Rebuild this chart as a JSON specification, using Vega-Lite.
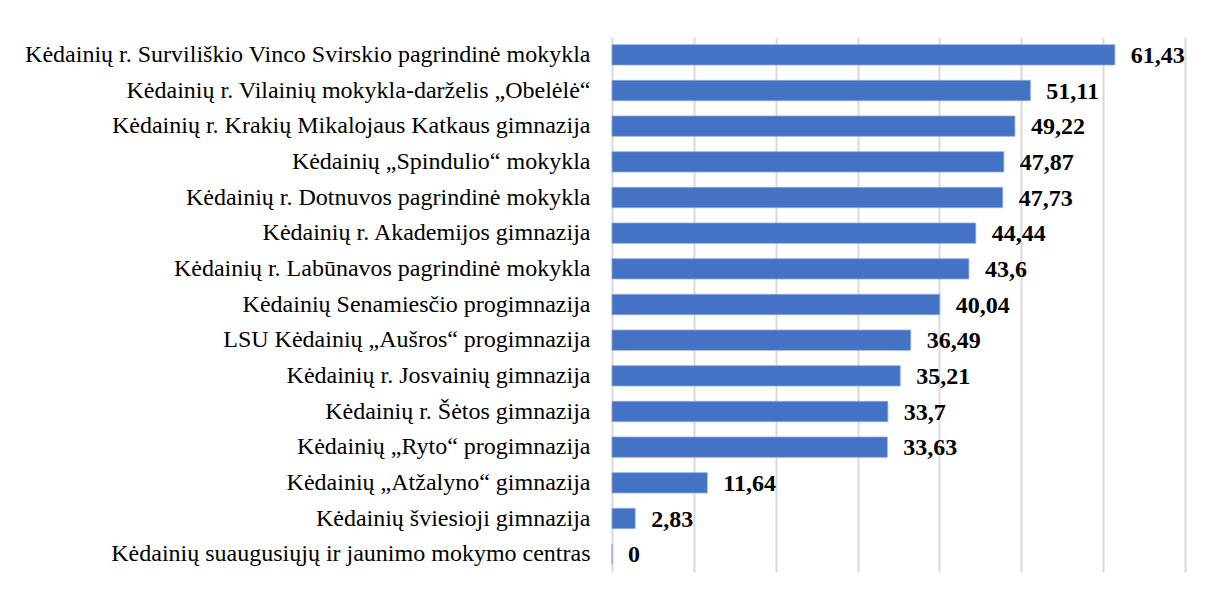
{
  "$schema": "https://vega.github.io/schema/vega-lite/v6.json",
  "autosize": "none",
  "width": 573,
  "height": 535,
  "padding": {"left": 612, "top": 37, "right": 26, "bottom": 23},
  "background": "white",
  "config": {"view": {"stroke": null}, "font": "Liberation Serif"},
  "data": {"values": [
    {"school": "Kėdainių r. Surviliškio Vinco Svirskio pagrindinė mokykla", "value": 61.43, "label": "61,43"},
    {"school": "Kėdainių r. Vilainių mokykla-darželis „Obelėlė“", "value": 51.11, "label": "51,11"},
    {"school": "Kėdainių r. Krakių Mikalojaus Katkaus gimnazija", "value": 49.22, "label": "49,22"},
    {"school": "Kėdainių „Spindulio“ mokykla", "value": 47.87, "label": "47,87"},
    {"school": "Kėdainių r. Dotnuvos pagrindinė mokykla", "value": 47.73, "label": "47,73"},
    {"school": "Kėdainių r. Akademijos gimnazija", "value": 44.44, "label": "44,44"},
    {"school": "Kėdainių r. Labūnavos pagrindinė mokykla", "value": 43.6, "label": "43,6"},
    {"school": "Kėdainių Senamiesčio progimnazija", "value": 40.04, "label": "40,04"},
    {"school": "LSU Kėdainių „Aušros“ progimnazija", "value": 36.49, "label": "36,49"},
    {"school": "Kėdainių r. Josvainių gimnazija", "value": 35.21, "label": "35,21"},
    {"school": "Kėdainių r. Šėtos gimnazija", "value": 33.7, "label": "33,7"},
    {"school": "Kėdainių „Ryto“ progimnazija", "value": 33.63, "label": "33,63"},
    {"school": "Kėdainių „Atžalyno“ gimnazija", "value": 11.64, "label": "11,64"},
    {"school": "Kėdainių šviesioji gimnazija", "value": 2.83, "label": "2,83"},
    {"school": "Kėdainių suaugusiųjų ir jaunimo mokymo centras", "value": 0, "label": "0"}
  ]},
  "encoding": {
    "y": {"field": "school", "type": "nominal", "sort": null,
      "scale": {"paddingInner": 0.43, "paddingOuter": 0.215},
      "axis": {"title": null, "ticks": false, "domain": false, "labelFont": "Liberation Serif", "labelFontSize": 24, "labelColor": "#000000", "labelPadding": 22, "labelLimit": 700}},
    "x": {"field": "value", "type": "quantitative",
      "scale": {"domain": [0, 70], "nice": false},
      "axis": {"title": null, "labels": false, "ticks": false, "domain": false, "values": [0,10,20,30,40,50,60,70], "grid": true, "gridColor": "#d9d9d9", "gridWidth": 2}}
  },
  "layer": [
    {"mark": {"type": "bar", "color": "#4472C4", "stroke": "#8eaadb", "strokeWidth": 0.75}},
    {"mark": {"type": "text", "align": "left", "baseline": "middle", "dx": 16, "dy": 1, "font": "Liberation Serif", "fontSize": 24, "fontWeight": "bold", "color": "#000000"},
     "encoding": {"text": {"field": "label"}}}
  ]
}
